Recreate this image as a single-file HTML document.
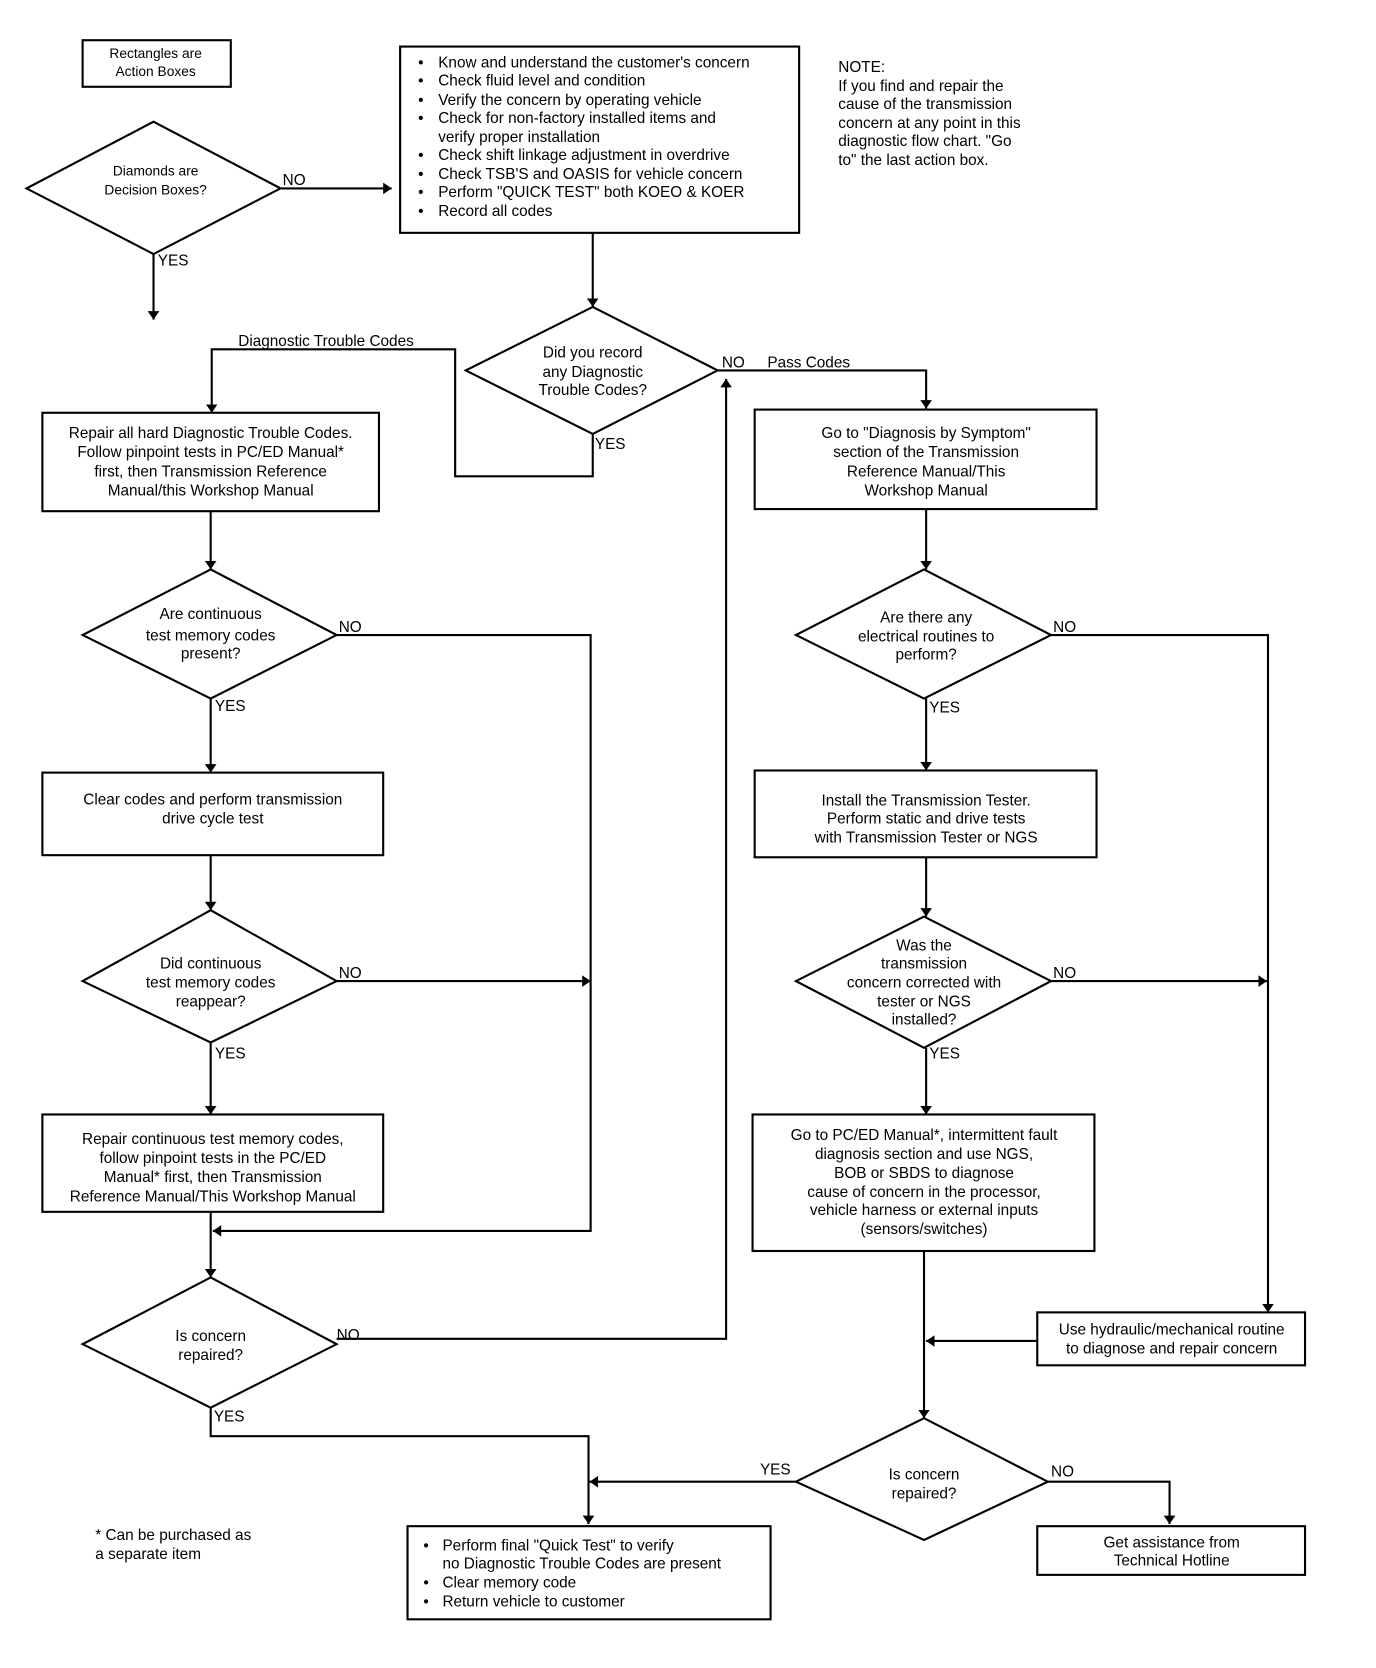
<!DOCTYPE html>
<html><head><meta charset="utf-8"><style>
html,body{margin:0;padding:0;background:#fff;}
svg{display:block;}
text{font-family:"Liberation Sans",sans-serif;font-size:14.5px;fill:#000;}
.c{text-anchor:middle;}
.s{font-size:13px;}
</style></head><body>
<svg width="1376" height="1668" viewBox="0 0 1300 1576" xmlns="http://www.w3.org/2000/svg">
<defs><marker id="a" viewBox="0 0 10 10" refX="10" refY="5" markerWidth="8" markerHeight="11" markerUnits="userSpaceOnUse" orient="auto-start-reverse" preserveAspectRatio="none"><path d="M0,0 L10,5 L0,10 z" fill="#000"/></marker></defs>
<g fill="none" stroke="#000" stroke-width="2">
<!-- boxes -->
<rect x="78" y="38" width="140" height="44"/>
<rect x="378" y="44" width="377" height="176"/>
<rect x="40" y="390" width="318" height="93"/>
<rect x="40" y="730" width="322" height="78"/>
<rect x="40" y="1053" width="322" height="92"/>
<rect x="713" y="387" width="323" height="94"/>
<rect x="713" y="728" width="323" height="82"/>
<rect x="711" y="1053" width="323" height="129"/>
<rect x="980" y="1240" width="253" height="50"/>
<rect x="385" y="1442" width="343" height="88"/>
<rect x="980" y="1442" width="253" height="46"/>
<!-- diamonds -->
<path d="M145,115 L265,178 L145,240 L25,178 Z"/>
<path d="M560,290 L678,350 L560,410 L440,350 Z"/>
<path d="M199,538 L318,600 L199,660 L78,600 Z"/>
<path d="M199,860 L318,927 L199,985 L78,927 Z"/>
<path d="M199,1207 L318,1270 L199,1330 L78,1270 Z"/>
<path d="M873,538 L993,600 L873,660 L752,600 Z"/>
<path d="M873,866 L993,927 L873,990 L752,927 Z"/>
<path d="M873,1340 L990,1400 L873,1455 L752,1400 Z"/>
<!-- connectors -->
<line x1="265" y1="178" x2="370" y2="178" marker-end="url(#a)"/>
<line x1="145" y1="240" x2="145" y2="302" marker-end="url(#a)"/>
<line x1="560" y1="220" x2="560" y2="290" marker-end="url(#a)"/>
<polyline points="560,410 560,450 430,450 430,330 200,330 200,390" marker-end="url(#a)"/>
<polyline points="678,350 875,350 875,386" marker-end="url(#a)"/>
<polyline points="318,1265 686,1265 686,358" marker-end="url(#a)"/>
<line x1="199" y1="483" x2="199" y2="538" marker-end="url(#a)"/>
<polyline points="318,600 558,600 558,1163 201,1163" marker-end="url(#a)"/>
<line x1="199" y1="660" x2="199" y2="730" marker-end="url(#a)"/>
<line x1="199" y1="808" x2="199" y2="860" marker-end="url(#a)"/>
<line x1="318" y1="927" x2="558" y2="927" marker-end="url(#a)"/>
<line x1="199" y1="985" x2="199" y2="1053" marker-end="url(#a)"/>
<line x1="199" y1="1145" x2="199" y2="1207" marker-end="url(#a)"/>
<polyline points="199,1330 199,1357 556,1357 556,1440" marker-end="url(#a)"/>
<line x1="875" y1="481" x2="875" y2="538" marker-end="url(#a)"/>
<polyline points="993,600 1198,600 1198,1240" marker-end="url(#a)"/>
<line x1="875" y1="660" x2="875" y2="728" marker-end="url(#a)"/>
<line x1="875" y1="810" x2="875" y2="866" marker-end="url(#a)"/>
<line x1="993" y1="927" x2="1197" y2="927" marker-end="url(#a)"/>
<line x1="875" y1="990" x2="875" y2="1053" marker-end="url(#a)"/>
<line x1="873" y1="1182" x2="873" y2="1340" marker-end="url(#a)"/>
<line x1="980" y1="1267" x2="875" y2="1267" marker-end="url(#a)"/>
<line x1="752" y1="1400" x2="557" y2="1400" marker-end="url(#a)"/>
<polyline points="990,1400 1105,1400 1105,1440" marker-end="url(#a)"/>
</g>
<text class="c s" x="147" y="55">Rectangles are</text>
<text class="c s" x="147" y="72">Action Boxes</text>
<text class="c s" x="147" y="166">Diamonds are</text>
<text class="c s" x="147" y="184">Decision Boxes?</text>
<text x="267" y="175">NO</text>
<text x="149" y="251">YES</text>
<g>
<text x="395" y="64">•</text><text x="414" y="64">Know and understand the customer's concern</text>
<text x="395" y="81">•</text><text x="414" y="81">Check fluid level and condition</text>
<text x="395" y="99">•</text><text x="414" y="99">Verify the concern by operating vehicle</text>
<text x="395" y="116">•</text><text x="414" y="116">Check for non-factory installed items and</text>
<text x="414" y="134">verify proper installation</text>
<text x="395" y="151">•</text><text x="414" y="151">Check shift linkage adjustment in overdrive</text>
<text x="395" y="169">•</text><text x="414" y="169">Check TSB'S and OASIS for vehicle concern</text>
<text x="395" y="186">•</text><text x="414" y="186">Perform "QUICK TEST" both KOEO &amp; KOER</text>
<text x="395" y="204">•</text><text x="414" y="204">Record all codes</text>
</g>
<text x="792" y="68">NOTE:</text>
<text x="792" y="86">If you find and repair the</text>
<text x="792" y="103">cause of the transmission</text>
<text x="792" y="121">concern at any point in this</text>
<text x="792" y="138">diagnostic flow chart. "Go</text>
<text x="792" y="156">to" the last action box.</text>
<text class="c" x="560" y="338">Did you record</text>
<text class="c" x="560" y="356">any Diagnostic</text>
<text class="c" x="560" y="373">Trouble Codes?</text>
<text x="562" y="424">YES</text>
<text class="c" x="308" y="327">Diagnostic Trouble Codes</text>
<text x="682" y="347">NO</text>
<text x="725" y="347">Pass Codes</text>
<text class="c" x="199" y="414">Repair all hard Diagnostic Trouble Codes.</text>
<text class="c" x="199" y="432">Follow pinpoint tests in PC/ED Manual*</text>
<text class="c" x="199" y="450">first, then Transmission Reference</text>
<text class="c" x="199" y="468">Manual/this Workshop Manual</text>
<text class="c" x="199" y="585">Are continuous</text>
<text class="c" x="199" y="605">test memory codes</text>
<text class="c" x="199" y="622">present?</text>
<text x="320" y="597">NO</text>
<text x="203" y="672">YES</text>
<text class="c" x="201" y="760">Clear codes and perform transmission</text>
<text class="c" x="201" y="778">drive cycle test</text>
<text class="c" x="199" y="915">Did continuous</text>
<text class="c" x="199" y="933">test memory codes</text>
<text class="c" x="199" y="951">reappear?</text>
<text x="320" y="924">NO</text>
<text x="203" y="1000">YES</text>
<text class="c" x="201" y="1081">Repair continuous test memory codes,</text>
<text class="c" x="201" y="1099">follow pinpoint tests in the PC/ED</text>
<text class="c" x="201" y="1117">Manual* first, then Transmission</text>
<text class="c" x="201" y="1135">Reference Manual/This Workshop Manual</text>
<text class="c" x="199" y="1267">Is concern</text>
<text class="c" x="199" y="1285">repaired?</text>
<text x="318" y="1266">NO</text>
<text x="202" y="1343">YES</text>
<text class="c" x="875" y="414">Go to "Diagnosis by Symptom"</text>
<text class="c" x="875" y="432">section of the Transmission</text>
<text class="c" x="875" y="450">Reference Manual/This</text>
<text class="c" x="875" y="468">Workshop Manual</text>
<text class="c" x="875" y="588">Are there any</text>
<text class="c" x="875" y="606">electrical routines to</text>
<text class="c" x="875" y="623">perform?</text>
<text x="995" y="597">NO</text>
<text x="878" y="673">YES</text>
<text class="c" x="875" y="761">Install the Transmission Tester.</text>
<text class="c" x="875" y="778">Perform static and drive tests</text>
<text class="c" x="875" y="796">with Transmission Tester or NGS</text>
<text class="c" x="873" y="898">Was the</text>
<text class="c" x="873" y="915">transmission</text>
<text class="c" x="873" y="933">concern corrected with</text>
<text class="c" x="873" y="951">tester or NGS</text>
<text class="c" x="873" y="968">installed?</text>
<text x="995" y="924">NO</text>
<text x="878" y="1000">YES</text>
<text class="c" x="873" y="1077">Go to PC/ED Manual*, intermittent fault</text>
<text class="c" x="873" y="1095">diagnosis section and use NGS,</text>
<text class="c" x="873" y="1113">BOB or SBDS to diagnose</text>
<text class="c" x="873" y="1131">cause of concern in the processor,</text>
<text class="c" x="873" y="1148">vehicle harness or external inputs</text>
<text class="c" x="873" y="1166">(sensors/switches)</text>
<text class="c" x="1107" y="1261">Use hydraulic/mechanical routine</text>
<text class="c" x="1107" y="1279">to diagnose and repair concern</text>
<text class="c" x="873" y="1398">Is concern</text>
<text class="c" x="873" y="1416">repaired?</text>
<text x="718" y="1393">YES</text>
<text x="993" y="1395">NO</text>
<text x="400" y="1465">•</text><text x="418" y="1465">Perform final "Quick Test" to verify</text>
<text x="418" y="1482">no Diagnostic Trouble Codes are present</text>
<text x="400" y="1500">•</text><text x="418" y="1500">Clear memory code</text>
<text x="400" y="1518">•</text><text x="418" y="1518">Return vehicle to customer</text>
<text class="c" x="1107" y="1462">Get assistance from</text>
<text class="c" x="1107" y="1479">Technical Hotline</text>
<text x="90" y="1455">* Can be purchased as</text>
<text x="90" y="1473">a separate item</text>
</svg>
</body></html>
